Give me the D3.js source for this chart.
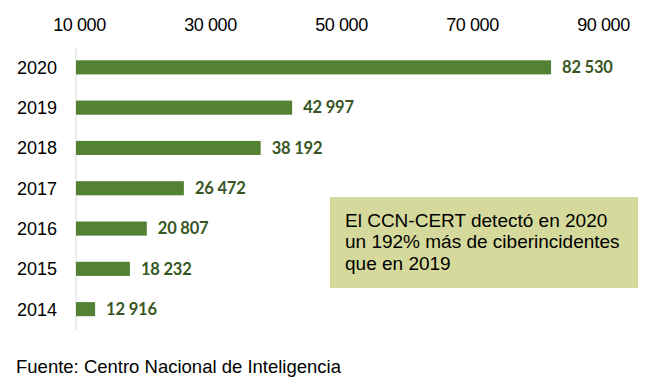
<!DOCTYPE html>
<html>
<head>
<meta charset="utf-8">
<script src="https://cdn.jsdelivr.net/npm/d3@7"></script>
<style>
  body { margin: 0; background: #fff; }
</style>
</head>
<body>
<div id="chart"></div>
<script>
// data
const years = ["2020", "2019", "2018", "2017", "2016", "2015", "2014"];
const incidents = [82530, 42997, 38192, 26472, 20807, 18232, 12916];
const tickValues = [10000, 30000, 50000, 70000, 90000];
const noteLines = ["El CCN-CERT detectó en 2020", "un 192% más de ciberincidentes", "que en 2019"];
const source = "Fuente: Centro Nacional de Inteligencia";

const W = 650, H = 384;

const svg = d3.select("#chart").append("svg")
  .attr("width", W)
  .attr("height", H);

// bars start at 10 000
const x = d3.scaleLinear().domain([10000, 90000]).range([76, 600]);
const y = d3.scaleBand().domain(years).range([47, 329.5]).paddingInner(0.65).paddingOuter(0.33);

const fmt = v => d3.format(",")(v).replace(/,/g, " ");

// top axis labels
const axisTop = svg.append("g")
  .attr("transform", "translate(3,31)")
  .call(d3.axisTop(x).tickValues(tickValues).tickSize(0).tickPadding(0).tickFormat(fmt));
axisTop.select(".domain").remove();
axisTop.selectAll("text")
  .attr("fill", "#000")
  .style("font-family", "Liberation Sans, Arial, sans-serif")
  .style("font-size", "18px")
  .style("letter-spacing", "-0.4px")
  .attr("dy", 0);

// vertical axis line
svg.append("line")
  .attr("x1", x(10000)).attr("x2", x(10000))
  .attr("y1", 47).attr("y2", 330)
  .attr("stroke", "#d9d9d9")
  .attr("stroke-width", 1);

// year labels
svg.append("g").selectAll("text")
  .data(years)
  .join("text")
  .attr("x", 57)
  .attr("y", d => y(d) + y.bandwidth() / 2 + 6.5)
  .attr("text-anchor", "end")
  .attr("fill", "#000")
  .style("font-family", "Liberation Sans, Arial, sans-serif")
  .style("font-size", "18px")
  .text(d => d);

// bars
svg.append("g").selectAll("rect")
  .data(incidents)
  .join("rect")
  .attr("x", x(10000))
  .attr("y", (d, i) => y(years[i]))
  .attr("width", d => x(d) - x(10000))
  .attr("height", y.bandwidth())
  .attr("fill", "#548235");

// value labels
svg.append("g").selectAll("text")
  .data(incidents)
  .join("text")
  .attr("x", d => x(d) + 11)
  .attr("y", (d, i) => y(years[i]) + y.bandwidth() / 2 + 5.8)
  .attr("fill", "#375623")
  .style("font-family", "Lato, sans-serif")
  .style("font-weight", "bold")
  .style("font-size", "16.5px")
  .style("letter-spacing", "-0.2px")
  .text(fmt);

// note box
svg.append("rect")
  .attr("x", 330).attr("y", 197)
  .attr("width", 308).attr("height", 91)
  .attr("fill", "#d5da9c");

svg.append("g").selectAll("text")
  .data(noteLines)
  .join("text")
  .attr("x", 345)
  .attr("y", (d, i) => 226.5 + i * 21.5)
  .attr("fill", "#000")
  .style("font-family", "Liberation Sans, Arial, sans-serif")
  .style("font-size", "19px")
  .text(d => d);

// source
svg.append("text")
  .attr("x", 16)
  .attr("y", 373)
  .attr("fill", "#000")
  .style("font-family", "Liberation Sans, Arial, sans-serif")
  .style("font-size", "18.5px")
  .text(source);
</script>
</body>
</html>
